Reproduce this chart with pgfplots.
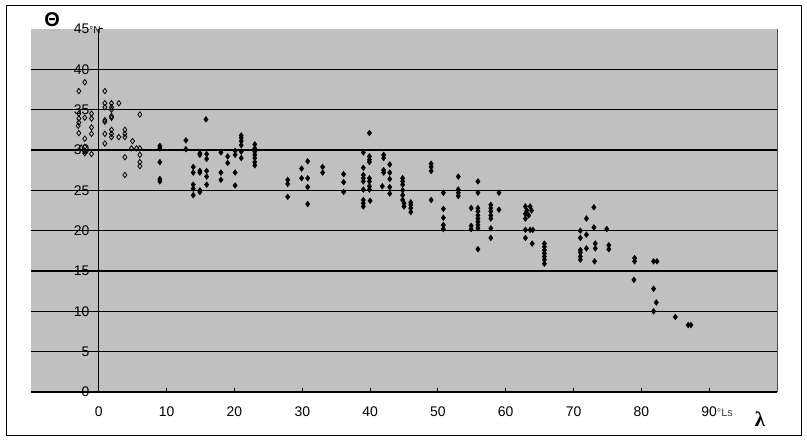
\documentclass[border=0pt]{standalone}
\usepackage{pgfplots}
\pgfplotsset{compat=1.18}
\usepackage{fontspec}
\setmainfont{Liberation Sans}
\newfontfamily\seriffont{Liberation Serif}
\definecolor{plotgray}{RGB}{192,192,192}
\pgfplotstableread{
x y
-2.95 37.3
-2.07 38.4
0.89 37.3
0.89 35.8
0.89 35.3
1.87 35.8
1.87 35.3
1.87 35.0
2.95 35.8
1.87 34.0
1.87 34.2
0.89 33.5
0.89 33.7
-2.95 34.5
-2.95 33.9
-2.95 33.4
-3.05 33.0
-2.07 34.0
-1.08 34.5
-1.08 33.9
-1.08 32.8
-1.08 32.0
-2.95 32.1
-2.07 31.4
-2.07 30.4
-2.07 29.9
-2.07 29.6
-2.6 30.3
-1.08 29.5
0.89 32.0
0.89 30.8
1.87 32.5
1.87 32.0
1.87 31.6
2.95 31.6
3.84 32.5
3.84 32.0
3.84 31.6
4.97 31.1
4.82 30.2
5.56 30.2
6.05 30.2
3.84 29.1
3.84 26.9
6.05 29.4
6.05 28.5
6.05 28.0
6.05 34.4
}\opendata
\pgfplotstableread{
x y
9.0 30.5
9.0 30.2
9.0 28.5
9.0 26.4
9.0 26.1
12.84 31.2
12.84 30.1
13.92 27.9
13.92 27.2
13.92 25.7
13.92 25.2
13.92 24.4
14.9 29.6
14.9 29.4
14.9 27.4
14.9 27.2
14.9 25.0
14.9 24.8
15.9 29.5
15.9 28.9
15.9 27.4
15.9 26.7
15.9 25.7
15.8 33.8
18.0 29.7
18.0 27.2
18.0 26.3
19.0 29.2
19.0 28.4
20.1 29.9
20.1 29.4
20.1 27.2
20.1 25.6
21.0 31.8
21.0 31.5
21.0 31.1
21.0 30.6
21.0 29.8
21.0 29.0
23.0 30.7
23.0 30.2
23.0 29.8
23.0 29.4
23.0 29.0
23.0 28.5
23.0 28.1
27.85 26.3
27.85 25.8
27.85 24.2
29.9 27.7
29.9 26.5
30.8 28.6
30.8 26.5
30.8 25.4
30.8 23.3
33.0 27.9
33.0 27.2
36.1 27.0
36.1 26.0
36.1 24.8
39.0 29.7
39.0 27.8
39.0 26.9
39.0 26.5
39.0 26.1
39.0 25.1
39.0 23.8
39.0 23.4
39.0 23.0
39.9 32.1
39.9 29.2
39.9 28.8
39.9 28.5
39.9 26.5
39.9 26.1
39.9 25.5
39.9 25.1
40.0 23.7
42.0 29.4
42.0 29.0
42.0 27.5
42.0 27.2
41.8 25.5
42.9 28.2
42.9 27.2
42.9 26.4
42.9 25.4
42.9 24.6
44.8 26.5
44.8 26.1
44.8 25.7
44.8 25.0
44.8 24.4
44.8 23.8
45.0 23.4
45.0 23.0
46.0 23.5
46.0 23.2
46.0 22.8
46.0 22.3
49.0 28.3
49.0 27.9
49.0 27.4
49.0 23.8
50.8 24.7
50.8 22.7
50.8 21.6
50.8 20.7
50.8 20.2
53.0 26.7
53.0 25.1
53.0 24.7
53.0 24.3
54.9 22.8
54.9 20.6
54.9 20.2
55.9 26.1
55.9 24.7
55.9 22.8
55.9 22.4
55.9 21.9
55.9 21.5
55.9 21.1
55.9 20.7
55.9 20.3
55.9 17.7
57.8 23.2
57.8 22.8
57.8 22.4
57.8 21.9
57.8 21.5
57.8 20.3
57.8 19.1
59.0 24.7
59.0 22.6
62.9 23.0
63.6 23.0
63.1 22.5
63.8 22.5
62.9 22.1
63.4 21.9
62.9 21.5
62.9 20.1
63.6 20.1
64.0 20.1
62.9 19.1
63.9 18.4
65.7 18.4
65.7 18.0
65.7 17.6
65.7 17.2
65.7 16.8
65.7 16.4
65.7 15.9
71.0 20.0
71.0 19.1
71.0 17.6
71.0 17.3
71.0 16.8
71.0 16.4
71.9 21.5
71.9 19.5
71.9 17.8
73.0 22.9
73.0 20.4
73.2 18.4
73.2 17.8
73.1 16.2
74.9 20.2
75.2 18.2
75.2 17.7
79.0 16.6
79.0 16.2
78.9 13.9
81.8 16.2
82.3 16.2
81.8 12.8
82.2 11.1
81.8 10.0
85.0 9.3
86.9 8.3
87.3 8.3
}\filleddata
\begin{document}
\begin{tikzpicture}[x=1bp,y=1bp]
\fill[white] (0,0) rectangle (807,442);
\draw[line width=1bp] (6,6) rectangle (801,436);
\begin{axis}[
  at={(31bp,50bp)}, anchor=south west,
  scale only axis, width=746bp, height=363bp,
  xmin=-10, xmax=100, ymin=0, ymax=45,
  axis background/.style={fill=plotgray},
  axis x line=bottom, axis y line=middle,
  axis line style={-, black, line width=1.1bp},
  hide obscured y ticks=false,
  hide obscured x ticks=false,
  xtick={0,10,...,90},
  xticklabels={0,10,20,30,40,50,60,70,80,{90\rlap{\color{darkgray}\fontsize{11}{11}\selectfont °Ls}}},
  ytick={0,5,...,45},
  yticklabels={0,5,10,15,20,25,30,35,40,{45\rlap{\fontsize{10}{10}\selectfont °N}}},
  tick align=inside,
  major tick length=4bp,
  tick style={black, line width=1bp},
  tick label style={font=\fontsize{14}{15}\selectfont},
  xticklabel style={yshift=-11bp},
  yticklabel style={xshift=-6bp},
  extra y ticks={5,10,...,40},
  extra y tick labels={},
  extra y tick style={grid=major, major tick length=0pt},
  major grid style={black, line width=1.1bp},
  clip=false,
]
\addplot[only marks, mark=diamond, mark size=2.7bp, mark options={fill=white, draw=black, line width=0.8bp}] table {\opendata};
\addplot[only marks, mark=diamond*, mark size=2.9bp, black] table {\filleddata};
\draw[gray!60!black, line width=1bp] (axis cs:100,0) -- (axis cs:100,45);
\end{axis}
\node[font=\bfseries\fontsize{20}{20}\selectfont] at (52,422) {Θ};
\node[font=\seriffont\bfseries\fontsize{21}{21}\selectfont] at (760,23) {λ};
\end{tikzpicture}
\end{document}
